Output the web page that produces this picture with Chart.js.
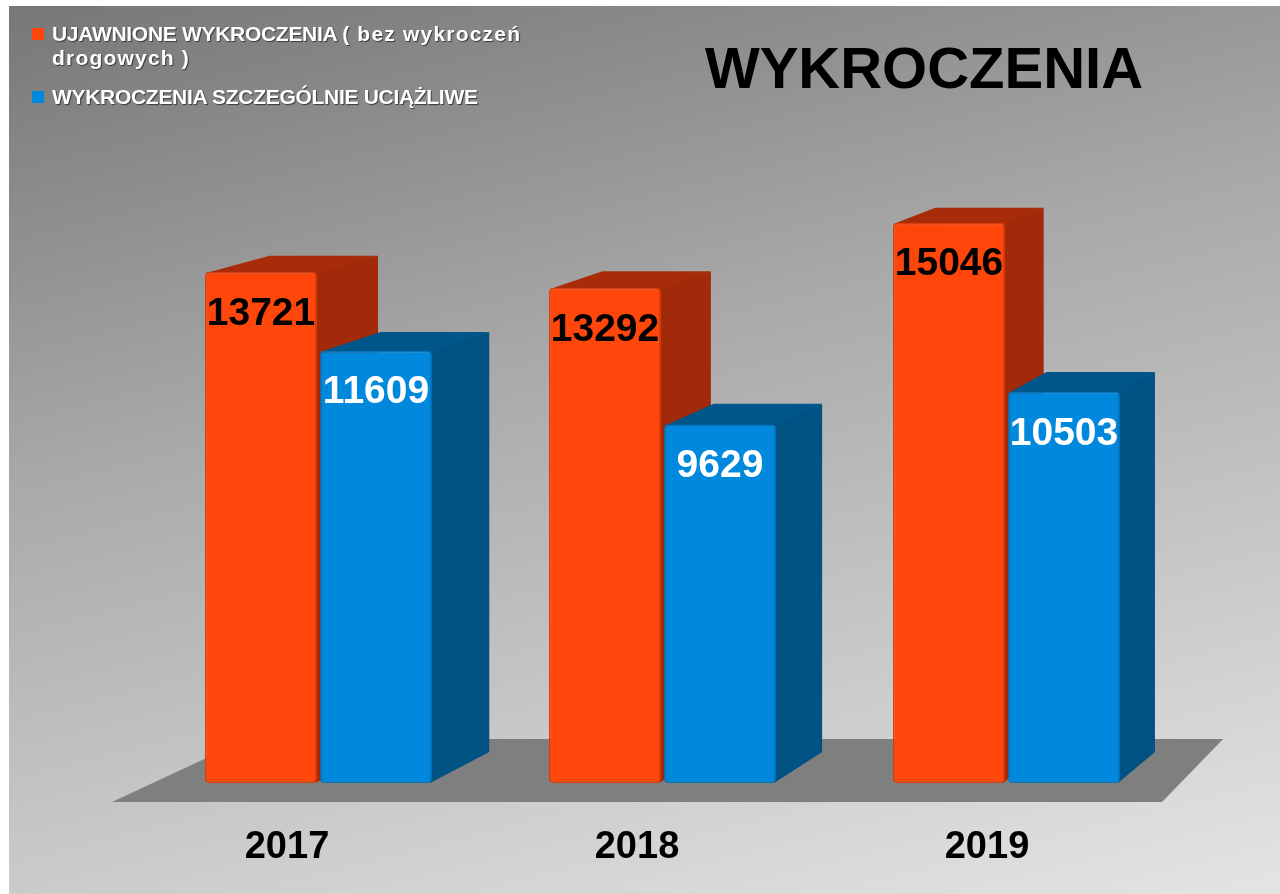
<!DOCTYPE html>
<html>
<head>
<meta charset="utf-8">
<script src="https://cdn.jsdelivr.net/npm/chart.js@4.4.1/dist/chart.umd.min.js"></script>
<style>
  html, body { margin: 0; padding: 0; background: #ffffff; width: 1280px; height: 894px; overflow: hidden; }
  #bg { position: absolute; left: 9px; top: 6px; width: 1271px; height: 888px;
        background: linear-gradient(166deg, #777777 0%, #a9a9a9 40%, #d6d6d6 85%, #e4e4e4 100%); }
  #wrap { position: absolute; left: 0; top: 0; width: 1280px; height: 894px; }
  #title { position: absolute; left: 694px; width: 460px; top: 34px; text-align: center;
           font: bold 58px "Liberation Sans", Arial, sans-serif; color: #000; line-height: 68px; }
  #legend { position: absolute; left: 0; top: 0; font: bold 21px "Liberation Sans", Arial, sans-serif;
            color: #fff; text-shadow: 1px 1px 1px #3a3a3a; }
  .item { position: absolute; left: 52px; width: 500px; line-height: 24px; letter-spacing: -0.3px; }
  .sw { position: absolute; width: 12px; height: 12px; }
  .wide { letter-spacing: 1.2px; }
</style>
</head>
<body>
<div id="bg"></div>
<div id="wrap"><canvas id="c" width="1280" height="894"></canvas></div>
<div id="title"></div>
<div id="legend"></div>
<script>
const chartTitle = 'WYKROCZENIA';
const categories = ['2017', '2018', '2019'];
const seriesNames = ['UJAWNIONE WYKROCZENIA ( bez wykroczeń drogowych )', 'WYKROCZENIA SZCZEGÓLNIE UCIĄŻLIWE'];
const ujawnione = [13721, 13292, 15046];
const uciazliwe = [11609, 9629, 10503];

const frontColors = ['#ff460b', '#0089dc'];
const edgeColors = ['#d83c09', '#0074bb'];
const sideColors = ['#a02a09', '#005283'];
const topColors = ['#a82c0a', '#00558a'];
const labelColors = ['#000000', '#ffffff'];

document.getElementById('title').textContent = chartTitle;

// HTML legend
const legend = document.getElementById('legend');
const legendTops = [22, 85];
seriesNames.forEach((name, i) => {
  const sw = document.createElement('div');
  sw.className = 'sw';
  sw.style.left = '32px';
  sw.style.top = (legendTops[i] + 6) + 'px';
  sw.style.background = frontColors[i];
  legend.appendChild(sw);
  const it = document.createElement('div');
  it.className = 'item';
  it.style.top = legendTops[i] + 'px';
  const m = name.match(/^(.*?)(\(.*\))$/);
  if (m) {
    const a = document.createElement('span'); a.textContent = m[1];
    const b = document.createElement('span'); b.className = 'wide'; b.textContent = m[2];
    it.appendChild(a); it.appendChild(b);
  } else {
    it.textContent = name;
  }
  legend.appendChild(it);
});

// perspective depth offsets (styling)
const depthX = x => 0.03245 * (2197 - x);
const depthY = y => -0.0286 * (y + 301);

const poly = (ctx, pts, color) => {
  ctx.beginPath();
  ctx.moveTo(pts[0][0], pts[0][1]);
  for (let k = 1; k < pts.length; k++) ctx.lineTo(pts[k][0], pts[k][1]);
  ctx.closePath();
  ctx.fillStyle = color;
  ctx.fill();
};

const floorFront = a => ({ y: a.bottom + 19, l: a.left - 34.5, r: a.right - 16.5 });

const box3d = {
  id: 'box3d',
  beforeDatasetsDraw(chart) {
    const ctx = chart.ctx;
    const a = chart.chartArea;
    const f = floorFront(a);
    ctx.save();
    // floor
    poly(ctx, [[f.l, f.y], [f.r, f.y], [f.r + 2 * depthX(f.r) - 6, f.y - 63], [f.l + 2 * depthX(f.l), f.y - 63]], '#7f7f7f');
    // extrusions
    chart.data.datasets.forEach((ds, di) => {
      const meta = chart.getDatasetMeta(di);
      meta.data.forEach(bar => {
        const p = bar.getProps(['x', 'y', 'base', 'width'], true);
        const L = p.x - p.width / 2, R = p.x + p.width / 2, T = p.y, B = p.base;
        const dT = depthY(T), dB = depthY(B);
        poly(ctx, [[R - 2, T], [R + depthX(R), T + dT], [R + depthX(R), B + dB], [R - 2, B]], sideColors[di]);
        poly(ctx, [[L + 1, T + 1], [L + depthX(L), T + dT], [R + depthX(R), T + dT], [R, T + 1]], topColors[di]);
      });
    });
    ctx.restore();
  },
  afterDatasetsDraw(chart) {
    const ctx = chart.ctx;
    const a = chart.chartArea;
    ctx.save();
    ctx.textAlign = 'center';
    ctx.textBaseline = 'middle';
    ctx.font = 'bold 39px "Liberation Sans", Arial, sans-serif';
    chart.data.datasets.forEach((ds, di) => {
      const meta = chart.getDatasetMeta(di);
      meta.data.forEach((bar, i) => {
        const p = bar.getProps(['x', 'y'], true);
        ctx.fillStyle = labelColors[di];
        ctx.fillText(String(ds.data[i]), p.x, p.y + 42);
      });
    });
    // category labels along the floor's front edge
    const f = floorFront(a);
    const step = (f.r - f.l) / categories.length;
    ctx.fillStyle = '#000';
    ctx.font = 'bold 38px "Liberation Sans", Arial, sans-serif';
    categories.forEach((c, i) => {
      ctx.fillText(c, f.l + step * (i + 0.5), f.y + 46);
    });
    ctx.restore();
  }
};

new Chart(document.getElementById('c'), {
  type: 'bar',
  data: {
    labels: categories,
    datasets: [
      { label: seriesNames[0], data: ujawnione, backgroundColor: frontColors[0], borderColor: edgeColors[0], borderWidth: 1.5, borderRadius: 4, borderSkipped: false },
      { label: seriesNames[1], data: uciazliwe, backgroundColor: frontColors[1], borderColor: edgeColors[1], borderWidth: 1.5, borderRadius: 4, borderSkipped: false }
    ]
  },
  options: {
    responsive: false,
    animation: false,
    events: [],
    layout: { padding: { left: 146.5, right: 101.5, top: 38.2, bottom: 111 } },
    datasets: { bar: { categoryPercentage: 0.6686, barPercentage: 0.974 } },
    plugins: { legend: { display: false }, tooltip: { enabled: false }, title: { display: false } },
    scales: {
      x: { display: false },
      y: { display: false, min: 0, max: 20000 }
    }
  },
  plugins: [box3d]
});
</script>
</body>
</html>
